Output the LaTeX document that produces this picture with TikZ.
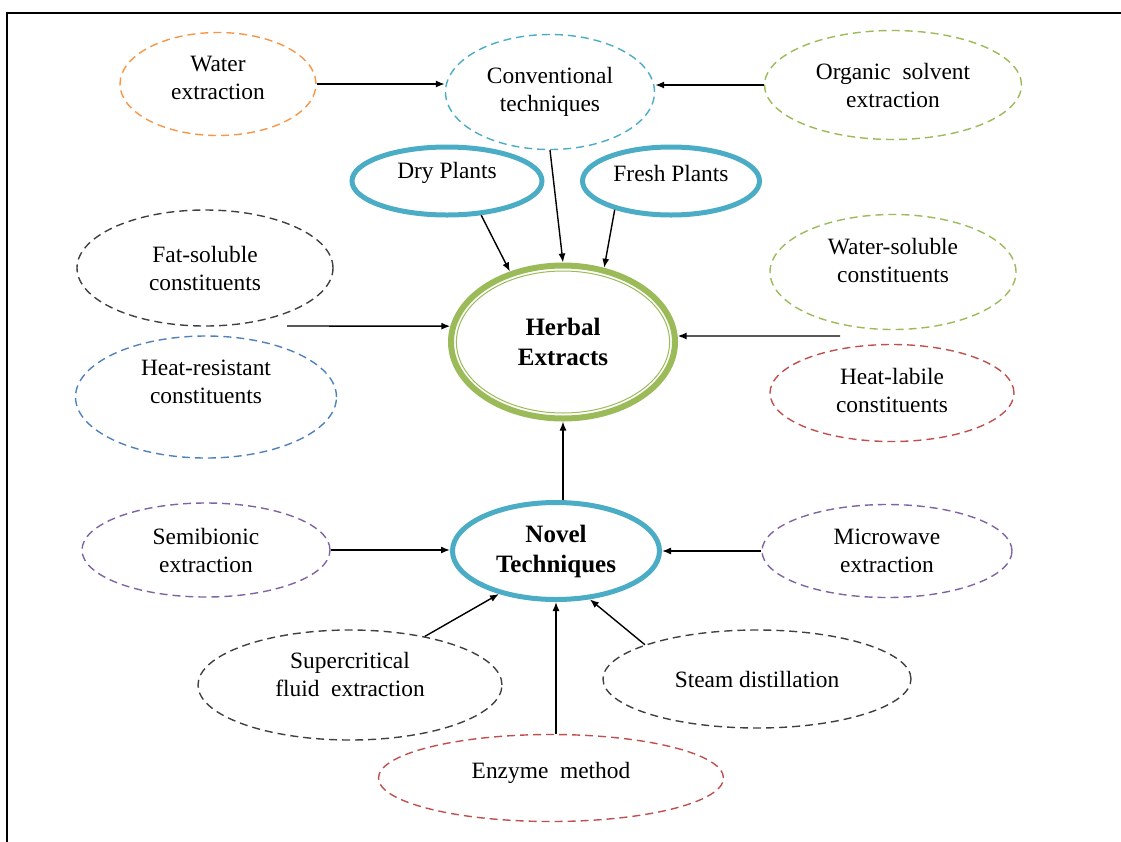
\documentclass[tikz,border=0pt]{standalone}
\usepackage{fontspec}
\setmainfont{Liberation Serif}
\usetikzlibrary{shapes.geometric,arrows.meta}

\definecolor{orng}{HTML}{F79646}
\definecolor{aqua}{HTML}{4BACC6}
\definecolor{lgreen}{HTML}{9BBB59}
\definecolor{dgray}{HTML}{404040}
\definecolor{sblue}{HTML}{4F81BD}
\definecolor{brick}{HTML}{C0504D}
\definecolor{lilac}{HTML}{8064A2}

\begin{document}
\begin{tikzpicture}[x=0.5pt,y=-0.5pt,font=\fontsize{11.7}{14}\selectfont,
  oval/.style={ellipse, inner sep=0pt, line width=0.7pt, dash pattern=on 4pt off 2.5pt},
  ring/.style={ellipse, inner sep=0pt, draw=aqua, line width=2.5pt},
  tx/.style 2 args={label={[align=center,inner sep=0pt,yshift=#1]center:#2}},
  bigtx/.style={label={[align=center,inner sep=0pt,font=\fontsize{12.5}{15}\selectfont\bfseries]center:#1}},
  arr/.style={-{Latex[length=4.5pt,width=3.5pt]}, line width=0.7pt}]
\useasboundingbox (0,0) rectangle (1121,842);
\draw[line width=1pt] (7,842) -- (7,13) -- (1121,13);

\node[oval, draw=orng, minimum width=98pt, minimum height=51.5pt, tx={3pt}{Water\\extraction}] (water) at (218,84) {};
\node[oval, draw=aqua, minimum width=104.5pt, minimum height=57.5pt, tx={0pt}{Conventional\\techniques}] (conv) at (550,92) {};
\node[oval, draw=lgreen, minimum width=128.5pt, minimum height=54.5pt, tx={0pt}{Organic\ \ solvent\\extraction}] (organic) at (893,85) {};
\node[ring, minimum width=95pt, minimum height=34pt, tx={4pt}{Dry Plants}] (dry) at (447,181) {};
\node[ring, minimum width=88.5pt, minimum height=34pt, tx={4pt}{Fresh Plants}] (fresh) at (671,181) {};
\node[oval, draw=dgray, minimum width=128pt, minimum height=58pt, tx={0pt}{Fat-soluble\\constituents}] (fat) at (205,268) {};
\node[oval, draw=lgreen, minimum width=123pt, minimum height=57.5pt, tx={6pt}{Water-soluble\\constituents}] (wsol) at (893,272) {};
\node[oval, draw=sblue, minimum width=130.5pt, minimum height=61pt, tx={7.5pt}{Heat-resistant\\constituents}] (hres) at (206,397) {};
\node[oval, draw=brick, minimum width=122pt, minimum height=48.5pt, tx={1.5pt}{Heat-labile\\constituents}] (hlab) at (892,393) {};
\node[ellipse, inner sep=0pt, draw=lgreen, line width=3pt, minimum width=112pt, minimum height=76.5pt,
  bigtx={Herbal\\Extracts}] (herb) at (563,342) {};
\draw[lgreen, line width=0.5pt] (herb.center) ellipse [x radius=53.3pt, y radius=35.5pt];
\node[ring, minimum width=103.5pt, minimum height=48.5pt, bigtx={Novel\\Techniques}] (novel) at (556,551) {};
\node[oval, draw=lilac, minimum width=124pt, minimum height=47pt, tx={0pt}{Semibionic\\extraction}] (semi) at (206,550) {};
\node[oval, draw=lilac, minimum width=125pt, minimum height=46.5pt, tx={0pt}{Microwave\\extraction}] (micro) at (887,551) {};
\node[oval, draw=dgray, minimum width=152pt, minimum height=55pt, tx={5.5pt}{Supercritical\\fluid\ \ extraction}] (super) at (350,685) {};
\node[oval, draw=dgray, minimum width=154pt, minimum height=49pt, tx={0pt}{Steam distillation}] (steam) at (757,679) {};
\node[oval, draw=brick, minimum width=172.5pt, minimum height=43.5pt, tx={2.5pt}{Enzyme\ \ method}] (enzyme) at (551,778) {};

\coordinate (lft) at (287,326);
\coordinate (rgt) at (840,336);

\draw[arr] (water.east) -- (water.east -| conv.west);
\draw[arr] (organic.west) -- (organic.west -| conv.east);
\draw[arr] (conv.south) -- (herb.north);
\draw[arr] (dry.-45) -- (herb.127);
\draw[arr] (fresh.207) -- (herb.61);
\draw[arr] (lft) -- (herb.172);
\draw[arr] (rgt) -- (herb.3);
\draw[arr] (herb.south |- novel.north) -- (herb.south);
\draw[arr] (semi.east) -- (semi.east -| novel.west);
\draw[arr] (micro.west) -- (micro.west -| novel.east);
\draw[arr] (super.33) -- (novel.217);
\draw[arr] (steam.163) -- (novel.-55);
\draw[arr] (novel.south |- enzyme.north) -- (novel.south);
\end{tikzpicture}
\end{document}
